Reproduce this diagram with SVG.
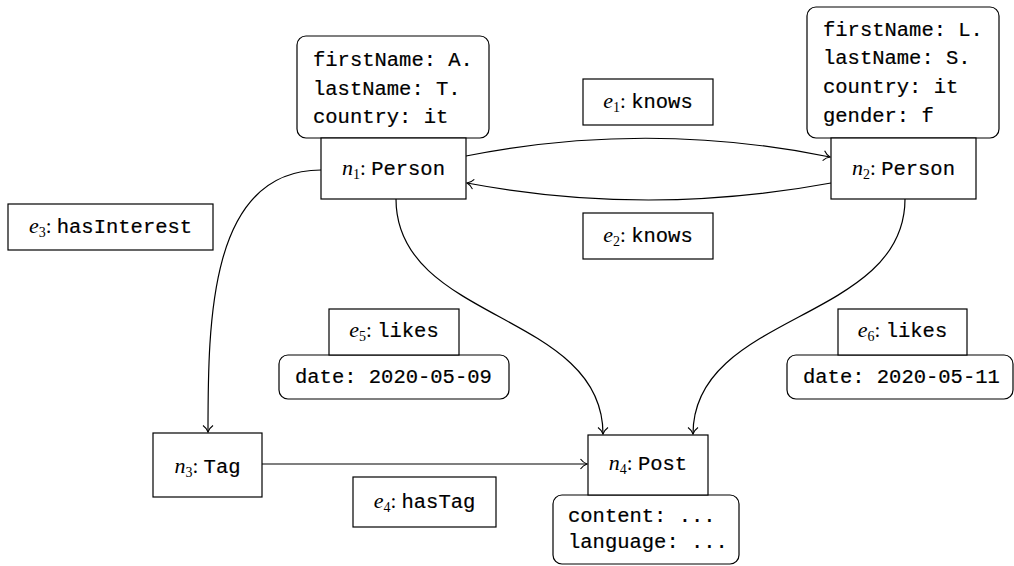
<svg xmlns="http://www.w3.org/2000/svg" width="1014" height="566" viewBox="0 0 1014 566">
<style>
.box{fill:#fff;stroke:#000;stroke-width:1.2}
.prop{fill:#fff;stroke:#000;stroke-width:1.2}
.tt{font-family:"Liberation Mono","DejaVu Sans Mono",monospace;font-size:20.5px;fill:#000;stroke:#000;stroke-width:0.2}
.lbl{font-family:"Liberation Mono","DejaVu Sans Mono",monospace;font-size:20.5px;fill:#000;stroke:#000;stroke-width:0.2;text-anchor:middle}
.mi{font-family:"Liberation Serif","DejaVu Serif",serif;font-style:italic;font-size:22px;stroke-width:0}
.sub{font-family:"Liberation Serif","DejaVu Serif",serif;font-size:14px;stroke-width:0}
.rm{font-family:"Liberation Serif","DejaVu Serif",serif;font-size:21px;stroke-width:0}
.edge{fill:none;stroke:#000;stroke-width:1.2}
</style>
<defs>
<marker id="arr" markerUnits="userSpaceOnUse" markerWidth="14" markerHeight="14" refX="0" refY="0" viewBox="-8 -7 10 14" orient="auto">
<path d="M-6.5,-5 C-4,-1.6 -1.2,-0.4 0,0 C-1.2,0.4 -4,1.6 -6.5,5" fill="none" stroke="#000" stroke-width="1.1"/>
</marker>
</defs>
<g id="connectors">
<path id="c-e1" class="edge" d="M466,156 Q648,120 830,157" marker-end="url(#arr)"/>
<path id="c-e2" class="edge" d="M831,183 Q648,217 467,183" marker-end="url(#arr)"/>
<path id="c-e3" class="edge" d="M321,170 C209,170 208,321 208,432" marker-end="url(#arr)"/>
<path id="c-e4" class="edge" d="M262,464 L587,464" marker-end="url(#arr)"/>
<path id="c-e5" class="edge" d="M396,199 C396,322 603,312 603,434" marker-end="url(#arr)"/>
<path id="c-e6" class="edge" d="M905,199 C905,322 693,312 693,434" marker-end="url(#arr)"/>
</g>
<g id="n1">
<rect class="prop" x="297" y="36" width="192" height="102" rx="9"/>
<text class="tt" x="313" y="66">firstName: A.</text>
<text class="tt" x="313" y="95">lastName: T.</text>
<text class="tt" x="313" y="123">country: it</text>
<rect class="box" x="321" y="138" width="145" height="61"/>
<text class="lbl" x="393.5" y="175"><tspan class="mi">n</tspan><tspan class="sub" dy="4">1</tspan><tspan class="rm" dy="-4">: </tspan>Person</text>
</g>
<g id="n2">
<rect class="prop" x="807" y="7" width="192" height="131" rx="9"/>
<text class="tt" x="823" y="36">firstName: L.</text>
<text class="tt" x="823" y="64">lastName: S.</text>
<text class="tt" x="823" y="93">country: it</text>
<text class="tt" x="823" y="122">gender: f</text>
<rect class="box" x="831" y="138" width="145" height="61"/>
<text class="lbl" x="903.5" y="175"><tspan class="mi">n</tspan><tspan class="sub" dy="4">2</tspan><tspan class="rm" dy="-4">: </tspan>Person</text>
</g>
<g id="n3">
<rect class="box" x="153" y="433" width="109" height="64"/>
<text class="lbl" x="207.5" y="473"><tspan class="mi">n</tspan><tspan class="sub" dy="4">3</tspan><tspan class="rm" dy="-4">: </tspan>Tag</text>
</g>
<g id="n4">
<rect class="prop" x="553" y="495" width="186" height="69" rx="9"/>
<text class="tt" x="568" y="522">content: ...</text>
<text class="tt" x="568" y="548">language: ...</text>
<rect class="box" x="588" y="435" width="120" height="60"/>
<text class="lbl" x="648" y="470"><tspan class="mi">n</tspan><tspan class="sub" dy="4">4</tspan><tspan class="rm" dy="-4">: </tspan>Post</text>
</g>
<g id="e1">
<rect class="box" x="583" y="79" width="130" height="46"/>
<text class="lbl" x="648" y="108"><tspan class="mi">e</tspan><tspan class="sub" dy="4">1</tspan><tspan class="rm" dy="-4">: </tspan>knows</text>
</g>
<g id="e2">
<rect class="box" x="583" y="213" width="130" height="46"/>
<text class="lbl" x="648" y="242"><tspan class="mi">e</tspan><tspan class="sub" dy="4">2</tspan><tspan class="rm" dy="-4">: </tspan>knows</text>
</g>
<g id="e3">
<rect class="box" x="8" y="204" width="205" height="46"/>
<text class="lbl" x="110.5" y="233"><tspan class="mi">e</tspan><tspan class="sub" dy="4">3</tspan><tspan class="rm" dy="-4">: </tspan>hasInterest</text>
</g>
<g id="e4">
<rect class="box" x="353" y="477" width="143" height="50"/>
<text class="lbl" x="424.5" y="508"><tspan class="mi">e</tspan><tspan class="sub" dy="4">4</tspan><tspan class="rm" dy="-4">: </tspan>hasTag</text>
</g>
<g id="e5">
<rect class="prop" x="279" y="355" width="230" height="44" rx="9"/>
<text class="tt" x="295" y="383">date: 2020-05-09</text>
<rect class="box" x="329" y="309" width="130" height="46"/>
<text class="lbl" x="394" y="337"><tspan class="mi">e</tspan><tspan class="sub" dy="4">5</tspan><tspan class="rm" dy="-4">: </tspan>likes</text>
</g>
<g id="e6">
<rect class="prop" x="787" y="355" width="226" height="44" rx="9"/>
<text class="tt" x="803" y="383">date: 2020-05-11</text>
<rect class="box" x="838" y="309" width="129" height="46"/>
<text class="lbl" x="902.5" y="337"><tspan class="mi">e</tspan><tspan class="sub" dy="4">6</tspan><tspan class="rm" dy="-4">: </tspan>likes</text>
</g>
</svg>
